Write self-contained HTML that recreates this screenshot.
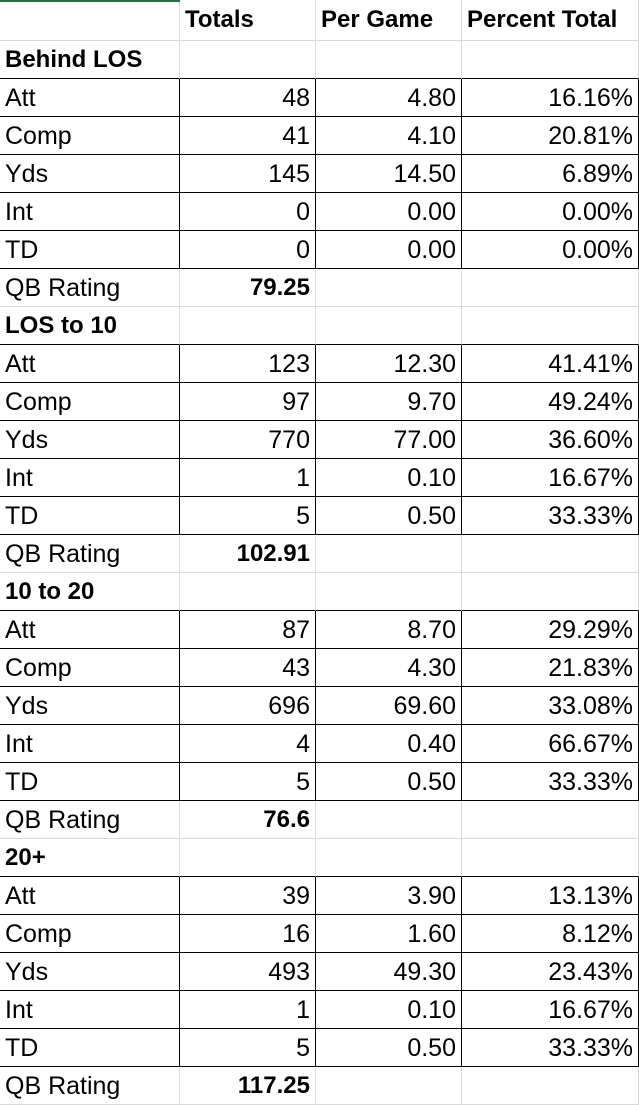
<!DOCTYPE html>
<html><head><meta charset="utf-8">
<style>
html,body{margin:0;padding:0;background:#fff;width:639px;height:1105px;overflow:hidden}
#bar{position:absolute;left:0;top:0;width:180px;height:2px;background:#217346}
table{position:absolute;left:0;top:0;border-collapse:separate;border-spacing:0;table-layout:fixed;font-family:"Liberation Sans",Arial,sans-serif;font-size:25px;color:#000}
td{height:38px;padding:0 5px 0 5px;border-right:1px solid #d9d9d9;border-bottom:1px solid #d9d9d9;white-space:nowrap;overflow:hidden;vertical-align:middle;line-height:36px;box-sizing:border-box}
tr.h td{height:41px;line-height:40px}
td.b{font-weight:bold;font-size:24px}
td.r{text-align:right}
tr.d td{border-bottom:1px solid #000;border-right:1px solid #000}
tr.s td{border-bottom:1px solid #000}
</style></head><body>
<table>
<colgroup><col style="width:180px"><col style="width:136px"><col style="width:146px"><col style="width:177px"></colgroup>
<tr class="h"><td></td><td class="b">Totals</td><td class="b">Per Game</td><td class="b">Percent Total</td></tr>
<tr class="s"><td class="b">Behind LOS</td><td></td><td></td><td></td></tr>
<tr class="d"><td>Att</td><td class="r">48</td><td class="r">4.80</td><td class="r">16.16%</td></tr>
<tr class="d"><td>Comp</td><td class="r">41</td><td class="r">4.10</td><td class="r">20.81%</td></tr>
<tr class="d"><td>Yds</td><td class="r">145</td><td class="r">14.50</td><td class="r">6.89%</td></tr>
<tr class="d"><td>Int</td><td class="r">0</td><td class="r">0.00</td><td class="r">0.00%</td></tr>
<tr class="d"><td>TD</td><td class="r">0</td><td class="r">0.00</td><td class="r">0.00%</td></tr>
<tr><td>QB Rating</td><td class="r b">79.25</td><td></td><td></td></tr>
<tr class="s"><td class="b">LOS to 10</td><td></td><td></td><td></td></tr>
<tr class="d"><td>Att</td><td class="r">123</td><td class="r">12.30</td><td class="r">41.41%</td></tr>
<tr class="d"><td>Comp</td><td class="r">97</td><td class="r">9.70</td><td class="r">49.24%</td></tr>
<tr class="d"><td>Yds</td><td class="r">770</td><td class="r">77.00</td><td class="r">36.60%</td></tr>
<tr class="d"><td>Int</td><td class="r">1</td><td class="r">0.10</td><td class="r">16.67%</td></tr>
<tr class="d"><td>TD</td><td class="r">5</td><td class="r">0.50</td><td class="r">33.33%</td></tr>
<tr><td>QB Rating</td><td class="r b">102.91</td><td></td><td></td></tr>
<tr class="s"><td class="b">10 to 20</td><td></td><td></td><td></td></tr>
<tr class="d"><td>Att</td><td class="r">87</td><td class="r">8.70</td><td class="r">29.29%</td></tr>
<tr class="d"><td>Comp</td><td class="r">43</td><td class="r">4.30</td><td class="r">21.83%</td></tr>
<tr class="d"><td>Yds</td><td class="r">696</td><td class="r">69.60</td><td class="r">33.08%</td></tr>
<tr class="d"><td>Int</td><td class="r">4</td><td class="r">0.40</td><td class="r">66.67%</td></tr>
<tr class="d"><td>TD</td><td class="r">5</td><td class="r">0.50</td><td class="r">33.33%</td></tr>
<tr><td>QB Rating</td><td class="r b">76.6</td><td></td><td></td></tr>
<tr class="s"><td class="b">20+</td><td></td><td></td><td></td></tr>
<tr class="d"><td>Att</td><td class="r">39</td><td class="r">3.90</td><td class="r">13.13%</td></tr>
<tr class="d"><td>Comp</td><td class="r">16</td><td class="r">1.60</td><td class="r">8.12%</td></tr>
<tr class="d"><td>Yds</td><td class="r">493</td><td class="r">49.30</td><td class="r">23.43%</td></tr>
<tr class="d"><td>Int</td><td class="r">1</td><td class="r">0.10</td><td class="r">16.67%</td></tr>
<tr class="d"><td>TD</td><td class="r">5</td><td class="r">0.50</td><td class="r">33.33%</td></tr>
<tr><td>QB Rating</td><td class="r b">117.25</td><td></td><td></td></tr>
</table>
<div id="bar"></div>
</body></html>
